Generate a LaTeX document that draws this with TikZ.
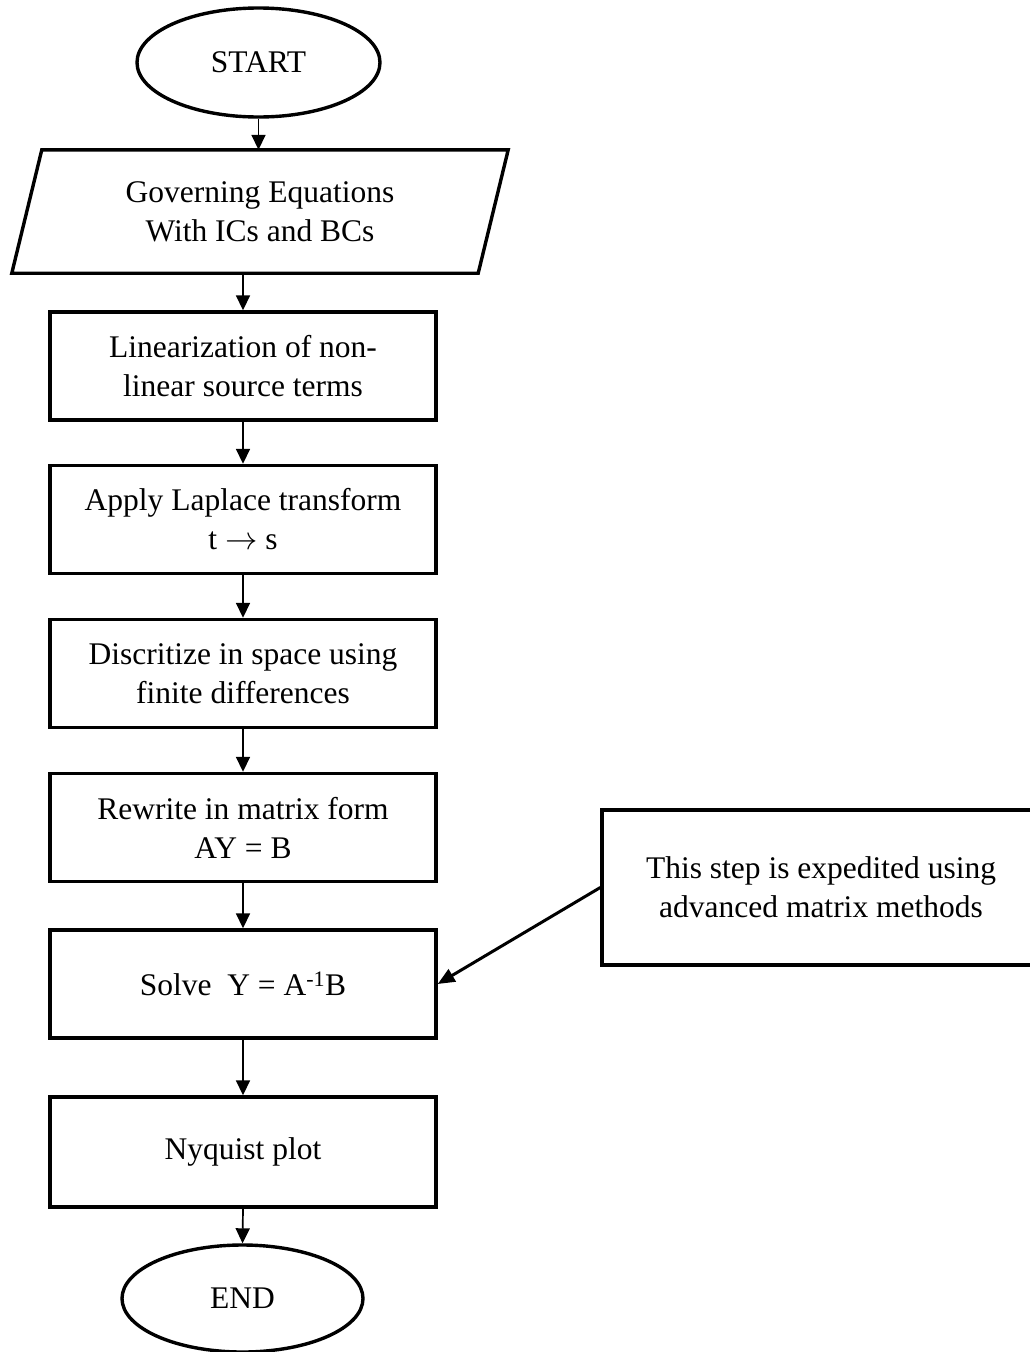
\documentclass[tikz,border=0pt]{standalone}
\usepackage{fontspec}
\setmainfont{Liberation Serif}
\usetikzlibrary{arrows.meta,shapes.geometric}
\begin{document}
\begin{tikzpicture}[x=1pt,y=-1pt,
  every node/.style={font=\fontsize{31.5}{39}\selectfont, align=center, inner sep=0pt},
  procbox/.style={draw, line width=3.4pt, rectangle, minimum width=386pt, minimum height=108pt},
  term/.style={draw, line width=3.4pt, ellipse},
  flow/.style={line width=1.7pt, -{Triangle[width=14pt,length=15pt]}},
  note/.style={line width=3pt, -{Triangle[width=14pt,length=17pt]}}
]
\useasboundingbox (0,0) rectangle (1029,1352);

\node[term, minimum width=243pt, minimum height=109pt] (start) at (258.5,62.5) {START};
\node[minimum width=466pt, minimum height=123pt] (para) at (260,211.5) {Governing Equations\\With ICs and BCs};
\draw[line width=3.4pt, line join=miter]
  ([xshift=15pt]para.north west) -- ([xshift=15pt]para.north east) --
  ([xshift=-15pt]para.south east) -- ([xshift=-15pt]para.south west) -- cycle;

\node[procbox] (b1) at (243,366) {Linearization of non-\\linear source terms};
\node[procbox] (b2) at (243,519.5) {Apply Laplace transform\\t \scalebox{1.3}{$\rightarrow$} s};
\node[procbox] (b3) at (243,673.5) {Discritize in space using\\finite differences};
\node[procbox] (b4) at (243,827.5) {Rewrite in matrix form\\AY = B};
\node[procbox] (b5) at (243,984) {Solve\ \ Y = A\textsuperscript{-1}B};
\node[procbox, minimum height=110pt] (b6) at (243,1152) {Nyquist plot};
\node[term, minimum width=241pt, minimum height=107pt] (end) at (242.5,1298.5) {END};

\node[draw, line width=3.4pt, rectangle, minimum width=438pt, minimum height=155pt] (side) at (821,887.5)
  {This step is expedited using\\advanced matrix methods};

\draw[flow] (start.south) -- (start.south |- para.north);
\draw[flow] (b1.north |- para.south) -- (b1.north);
\draw[flow] (b1.south) -- (b2.north);
\draw[flow] (b2.south) -- (b3.north);
\draw[flow] (b3.south) -- (b4.north);
\draw[flow] (b4.south) -- (b5.north);
\draw[flow] (b5.south) -- (b6.north);
\draw[flow] (b6.south) -- (end.north);
\draw[note] (side.west) -- (b5.east);
\end{tikzpicture}
\end{document}
